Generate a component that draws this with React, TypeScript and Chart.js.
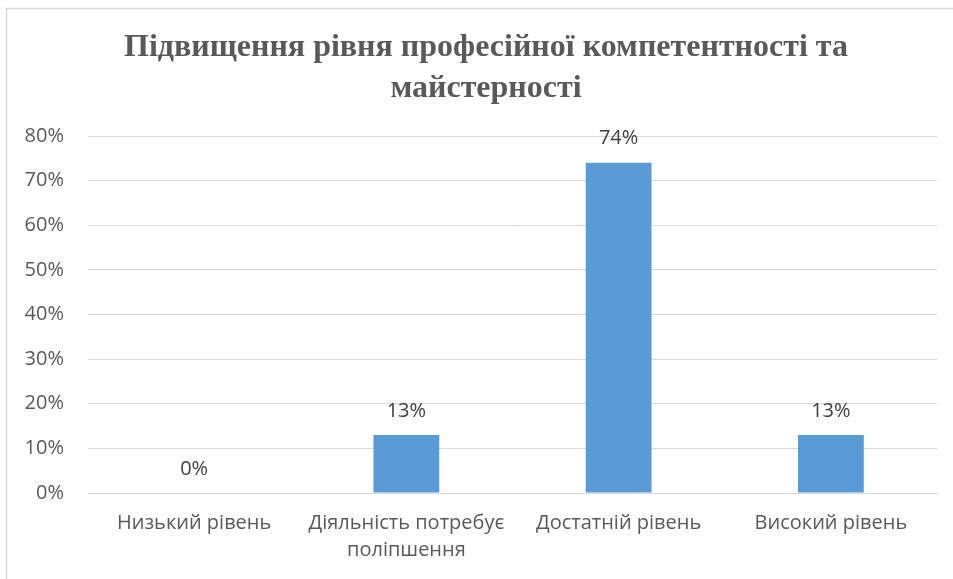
import React, { useEffect, useRef } from "react";
import { Chart, registerables } from "chart.js";

Chart.register(...registerables);

const titleLines = ["Підвищення рівня професійної компетентності та", "майстерності"];
const categories: (string | string[])[] = [
  "Низький рівень",
  ["Діяльність потребує", "поліпшення"],
  "Достатній рівень",
  "Високий рівень",
];
const values = [0, 13, 74, 13];
const yMax = 80;
const yStep = 10;

const SANS = "'Open Sans', 'Noto Sans', sans-serif";
const SERIF = "'Liberation Serif', 'Times New Roman', serif";
const TEXT = "#595959";

const framePlugin = {
  id: "frame",
  beforeDraw(chart: any) {
    const ctx = chart.ctx;
    ctx.save();
    ctx.fillStyle = "#ffffff";
    ctx.fillRect(0, 0, chart.width, chart.height);
    ctx.strokeStyle = "#d9d9d9";
    ctx.lineWidth = 1.5;
    ctx.strokeRect(6.5, 8.5, chart.width + 20, chart.height + 20);
    ctx.font = `bold 32px ${SERIF}`;
    ctx.fillStyle = TEXT;
    ctx.textAlign = "center";
    ctx.textBaseline = "middle";
    titleLines.forEach((line, i) => {
      ctx.fillText(line, 486, 48 + i * 41);
    });
    ctx.restore();
  },
};

const labelPlugin = {
  id: "valueLabels",
  afterDatasetsDraw(chart: any) {
    const ctx = chart.ctx;
    const meta = chart.getDatasetMeta(0);
    ctx.save();
    ctx.font = `20px ${SANS}`;
    ctx.fillStyle = "#404040";
    ctx.textAlign = "center";
    ctx.textBaseline = "middle";
    meta.data.forEach((el: any, i: number) => {
      ctx.fillText(`${values[i]}%`, el.x, el.y - 24);
    });
    ctx.restore();
  },
};

export default function App() {
  const ref = useRef<HTMLCanvasElement>(null);
  useEffect(() => {
    if (!ref.current) return;
    const chart = new Chart(ref.current, {
      type: "bar",
      data: {
        labels: categories,
        datasets: [
          {
            data: values,
            backgroundColor: "#5b9bd5",
            borderWidth: 0,
            barPercentage: 0.31,
            categoryPercentage: 1,
          },
        ],
      },
      options: {
        animation: false,
        responsive: false,
        layout: { padding: { left: 0, right: 16, top: 136, bottom: 0 } },
        plugins: {
          legend: { display: false },
          tooltip: { enabled: false },
          title: { display: false },
        },
        scales: {
          x: {
            grid: { display: false, drawTicks: false },
            border: { color: "#d9d9d9", width: 1 },
            ticks: {
              color: TEXT,
              font: { family: SANS, size: 20, lineHeight: 1.35 },
              padding: 17,
              maxRotation: 0,
              autoSkip: false,
            },
            afterFit(scale: any) {
              scale.height = 86;
            },
          },
          y: {
            min: 0,
            max: yMax,
            grid: { color: "#d9d9d9", drawTicks: false },
            border: { display: false },
            ticks: {
              stepSize: yStep,
              color: TEXT,
              font: { family: SANS, size: 20 },
              padding: 24,
              callback: (v: any) => `${v}%`,
            },
            afterFit(scale: any) {
              scale.width = 88;
            },
          },
        },
      },
      plugins: [framePlugin, labelPlugin],
    } as any);
    return () => chart.destroy();
  }, []);
  return (
    <div style={{ position: "fixed", left: 0, top: 0, width: 953, height: 579, background: "#fff" }}>
      <canvas ref={ref} width={953} height={579} style={{ display: "block" }} />
    </div>
  );
}
